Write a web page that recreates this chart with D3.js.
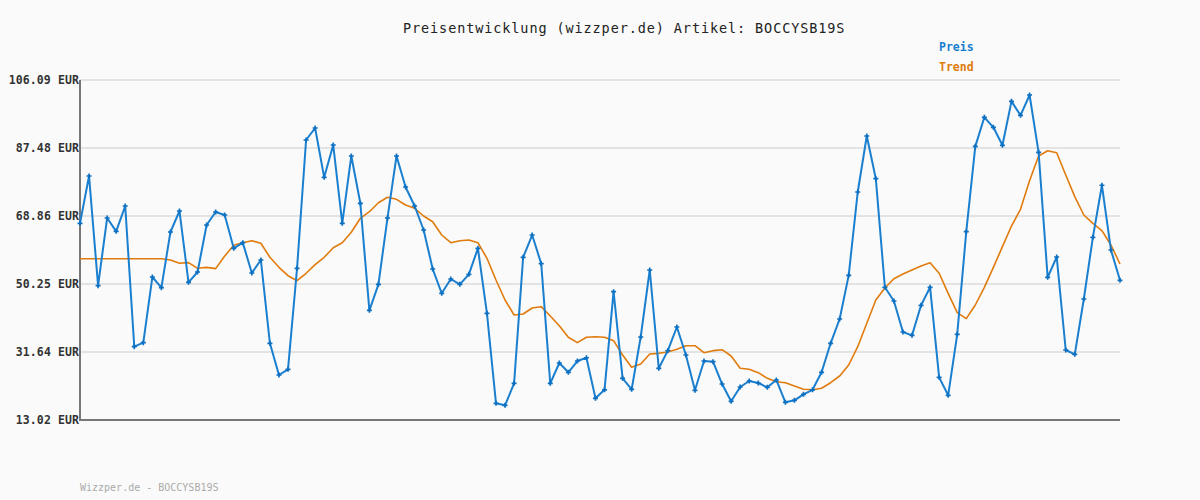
<!DOCTYPE html>
<html><head><meta charset="utf-8">
<script src="https://cdn.jsdelivr.net/npm/d3@7"></script>
<style>
html,body{margin:0;padding:0;background:#fafafa;}
svg{display:block;}
</style></head>
<body>
<svg id="chart" width="1200" height="500"></svg>
<script>
const titleText = "Preisentwicklung (wizzper.de) Artikel: BOCCYSB19S";
const footerText = "Wizzper.de - BOCCYSB19S";
const seriesNames = ["Preis", "Trend"];
const tickValues = [13.02, 31.64, 50.25, 68.86, 87.48, 106.09];
const tickLabels = ["13.02 EUR", "31.64 EUR", "50.25 EUR", "68.86 EUR", "87.48 EUR", "106.09 EUR"];

const preis = [
66.86,79.81,49.79,68.31,64.67,71.60,33.09,34.19,52.16,49.24,
64.48,70.23,50.70,53.53,66.40,69.96,69.13,60.01,61.55,53.26,
56.82,34.01,25.33,26.90,54.54,89.67,92.95,79.45,88.30,66.86,
85.29,72.34,43.04,50.16,68.31,85.29,76.80,71.60,65.03,54.35,
47.70,51.62,50.16,52.90,60.01,42.22,17.58,17.04,23.06,57.55,
63.66,55.82,23.06,28.62,26.08,29.17,30.07,18.95,21.28,48.14,
24.43,21.42,35.74,54.08,27.17,32.00,38.48,30.81,21.15,29.17,
28.98,22.87,18.14,22.05,23.69,23.15,21.97,23.97,17.86,18.41,
20.05,21.28,26.08,34.01,40.67,52.62,75.43,90.76,79.08,49.34,
45.59,37.11,36.19,44.41,49.34,24.70,19.78,36.47,64.57,87.93,
95.88,93.14,88.21,100.25,96.43,101.98,86.29,52.08,57.64,32.18,
31.00,46.14,63.02,77.27,59.56,51.26
];

const trend = [
57.17,57.17,57.17,57.17,57.17,57.17,57.17,57.17,57.17,57.17,
56.82,55.91,56.09,54.54,54.81,54.45,57.91,60.84,61.55,62.10,
61.39,57.55,54.81,52.52,51.15,53.18,55.53,57.55,60.19,61.55,
64.40,68.23,70.04,72.50,73.98,73.43,71.87,70.96,68.86,67.30,
63.66,61.55,62.10,62.29,61.55,57.28,51.34,45.87,41.76,42.03,
43.68,44.04,41.48,38.83,35.66,34.19,35.66,35.82,35.66,34.73,
30.81,27.45,28.35,31.09,31.27,31.64,32.36,33.36,33.36,31.45,
32.00,32.27,30.54,27.17,26.90,25.97,24.43,23.50,23.23,22.33,
21.42,21.28,21.70,23.23,25.06,28.07,33.09,39.49,45.87,49.15,
51.70,52.98,54.08,55.18,56.09,53.18,47.70,42.40,40.76,44.50,
49.34,54.81,60.46,66.12,70.69,78.53,85.29,86.74,86.19,80.09,
74.15,69.13,66.86,64.84,60.93,55.73
];

(function () {
const svg = d3.select("#chart");
const W = 1200, H = 500;
const mLeft = 80, mRight = 1120, mTop = 80, mBottom = 420;
const mono = "'DejaVu Sans Mono', 'Liberation Mono', monospace";

svg.append("rect").attr("width", W).attr("height", H).attr("fill", "#fafafa");

const x = d3.scaleLinear().domain([0, preis.length - 1]).range([mLeft, mRight]);
const y = d3.scaleLinear().domain([tickValues[0], tickValues[tickValues.length - 1]]).range([mBottom, mTop]);

// grid
svg.append("g").selectAll("line").data(tickValues).join("line")
  .attr("x1", mLeft).attr("x2", mRight)
  .attr("y1", d => y(d)).attr("y2", d => y(d))
  .attr("stroke", "#e3e3e3").attr("stroke-width", 2);

// y axis labels
const yAxis = d3.axisLeft(y).tickValues(tickValues).tickSize(0).tickPadding(1)
  .tickFormat((d, i) => tickLabels[i]);
const gy = svg.append("g").attr("transform", `translate(${mLeft},0)`).call(yAxis);
gy.select(".domain").remove();
gy.selectAll("text")
  .attr("font-family", mono).attr("font-size", "11.5px").attr("font-weight", "bold")
  .attr("fill", "#333").attr("letter-spacing", "0.1px");

// axes lines
svg.append("line").attr("x1", mLeft).attr("x2", mLeft).attr("y1", mTop).attr("y2", mBottom + 1)
  .attr("stroke", "#777").attr("stroke-width", 2);
svg.append("line").attr("x1", mLeft - 1).attr("x2", mRight).attr("y1", mBottom).attr("y2", mBottom)
  .attr("stroke", "#777").attr("stroke-width", 2);

// trend line
const line = d3.line().x((d, i) => x(i)).y(d => y(d));
svg.append("path").datum(trend).attr("d", line)
  .attr("fill", "none").attr("stroke", "#e07b0c").attr("stroke-width", 1.6)
  .attr("stroke-linejoin", "round");

// price line
svg.append("path").datum(preis).attr("d", line)
  .attr("fill", "none").attr("stroke", "#1a7fcf").attr("stroke-width", 2)
  .attr("stroke-linejoin", "round");

// markers
const cross = d3.symbol().type(d3.symbolCross).size(14);
svg.append("g").selectAll("path").data(preis).join("path")
  .attr("d", cross)
  .attr("transform", (d, i) => `translate(${x(i)},${y(d)})`)
  .attr("fill", "#0d6fc0");

// title
svg.append("text").attr("x", 403).attr("y", 33)
  .attr("font-family", mono).attr("font-size", "13.5px")
  .attr("fill", "#222").attr("letter-spacing", "0.9px")
  .text(titleText);

// legend
const legColors = ["#1a7fcf", "#e07b0c"];
svg.append("g").selectAll("text").data(seriesNames).join("text")
  .attr("x", 939).attr("y", (d, i) => 51 + i * 20)
  .attr("font-family", mono).attr("font-size", "11.5px").attr("font-weight", "bold")
  .attr("fill", (d, i) => legColors[i]).text(d => d);

// footer
svg.append("text").attr("x", 80).attr("y", 491)
  .attr("font-family", mono).attr("font-size", "10px")
  .attr("fill", "#aaa").text(footerText);
})();
</script>
</body></html>
